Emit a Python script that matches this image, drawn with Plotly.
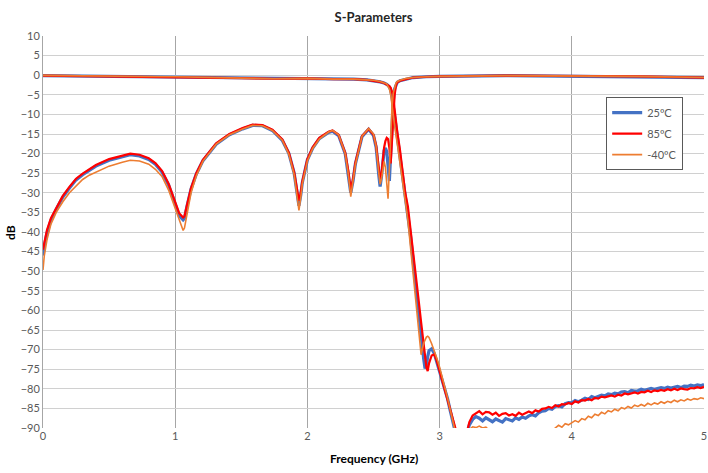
import plotly.graph_objects as go

# --- S11 (reflection) ---
f_s11 = [0, 0.01, 0.03, 0.06, 0.1,
         0.15, 0.2, 0.25, 0.3, 0.35,
         0.4, 0.5, 0.6, 0.66, 0.73,
         0.8, 0.85, 0.9, 0.95, 1.0,
         1.03, 1.06, 1.07, 1.09, 1.12,
         1.16, 1.21, 1.31, 1.41, 1.51,
         1.585, 1.66, 1.735, 1.81, 1.86,
         1.9, 1.923, 1.936, 1.95, 1.961,
         2.0, 2.04, 2.09, 2.16, 2.19,
         2.236, 2.286, 2.31, 2.328, 2.345,
         2.363, 2.413, 2.463, 2.5, 2.52,
         2.54, 2.55, 2.56, 2.57, 2.58,
         2.59, 2.6, 2.61, 2.62, 2.63,
         2.64, 2.65, 2.66, 2.67, 2.68,
         2.7, 2.75, 2.8, 2.9, 3.0,
         3.5, 4.0, 4.5, 5.0]

s11_25 = [-46.0, -43.5, -40.3, -37.0, -34.2,
          -31.1, -28.8, -26.7, -25.4, -24.2,
          -23.2, -21.7, -20.7, -20.3, -20.6,
          -21.5, -22.7, -24.7, -28.0, -32.8,
          -35.8, -36.9, -36.5, -33.3, -29.0,
          -25.2, -21.8, -17.6, -15.2, -13.7,
          -12.8, -12.9, -14.1, -16.6, -20.0,
          -25.0, -30.0, -33.3, -30.5, -27.5,
          -21.6, -18.6, -16.2, -14.6, -14.3,
          -15.4, -20.0, -25.0, -30.0, -27.0,
          -22.6, -15.7, -13.8, -15.4, -18.4,
          -25.5, -28.4, -26.0, -22.0, -19.2,
          -18.6, -19.5, -23.0, -27.0, -20.0,
          -12.0, -6.5, -3.5, -2.3, -1.8,
          -1.4, -0.9, -0.6, -0.4, -0.3,
          -0.1, -0.2, -0.3, -0.6]

s11_85 = [-44.5, -42.5, -39.5, -36.5, -33.8,
          -30.8, -28.5, -26.4, -25.1, -23.9,
          -22.9, -21.4, -20.4, -20.0, -20.3,
          -21.2, -22.4, -24.4, -27.7, -32.4,
          -35.2, -36.3, -36.0, -33.0, -28.8,
          -25.0, -21.6, -17.4, -15.0, -13.5,
          -12.6, -12.7, -13.9, -16.4, -19.8,
          -24.8, -29.5, -32.0, -30.0, -27.2,
          -21.4, -18.4, -16.0, -14.4, -14.1,
          -15.2, -19.8, -24.5, -29.3, -26.5,
          -22.3, -15.5, -13.7, -15.2, -18.0,
          -23.5, -26.5, -25.5, -21.5, -18.5,
          -16.8, -16.0, -16.3, -18.5, -22.5,
          -17.0, -10.0, -5.0, -2.5, -1.8,
          -1.4, -0.9, -0.6, -0.4, -0.3,
          -0.1, -0.2, -0.3, -0.6]

s11_m40 = [-49.7, -46.0, -42.0, -38.0, -35.0,
           -32.3, -30.0, -28.2, -26.6, -25.5,
           -24.7, -23.2, -22.2, -21.7, -21.9,
           -22.7, -24.0, -25.8, -29.3, -34.0,
           -37.3, -39.6, -39.0, -35.5, -30.0,
           -25.6, -21.9, -17.6, -15.2, -13.7,
           -12.8, -12.9, -14.1, -16.6, -20.2,
           -25.4, -30.5, -34.5, -31.2, -27.8,
           -21.8, -18.7, -16.3, -14.5, -14.1,
           -15.2, -20.0, -25.3, -31.0, -27.5,
           -22.8, -15.6, -13.6, -15.0, -18.2,
           -25.0, -27.8, -26.5, -23.5, -22.0,
           -23.5, -27.0, -31.5, -24.0, -14.0,
           -8.0, -4.5, -2.8, -2.0, -1.6,
           -1.3, -0.8, -0.6, -0.4, -0.3,
           -0.1, -0.2, -0.3, -0.6]

# --- S21 (transmission), passband + roll-off ---
f_s21 = [0, 0.25, 0.5, 0.75, 1.0,
         1.25, 1.5, 1.75, 2.0, 2.2,
         2.35, 2.45, 2.5, 2.55, 2.58,
         2.6, 2.62, 2.63, 2.64, 2.65,
         2.66, 2.68, 2.7, 2.72, 2.74,
         2.76, 2.78, 2.8, 2.82, 2.84,
         2.86, 2.88, 2.89, 2.9, 2.91,
         2.92, 2.94, 2.96, 2.98, 3.0,
         3.02, 3.04, 3.06, 3.08, 3.1,
         3.12, 3.14, 3.16, 3.18]

s21_25 = [-0.1, -0.2, -0.3, -0.35, -0.4,
          -0.5, -0.75, -0.9, -0.8, -1.0,
          -1.0, -1.2, -1.4, -1.7, -2.0,
          -2.3, -3.0, -3.8, -5.5, -8.0,
          -11.0, -16.0, -20.5, -26.0, -31.0,
          -35.5, -41.0, -47.5, -54.0, -60.0,
          -66.5, -72.5, -74.8, -74.0, -71.8,
          -70.3, -69.8, -71.0, -73.3, -75.5,
          -77.8, -80.0, -82.5, -85.5, -88.5,
          -91.0, -94.0, -95.0, -95.0]

s21_85 = [-0.1, -0.2, -0.3, -0.35, -0.4,
          -0.5, -0.75, -0.9, -0.8, -1.0,
          -1.0, -1.2, -1.4, -1.7, -2.0,
          -2.3, -2.8, -3.2, -4.2, -6.0,
          -9.0, -14.5, -19.0, -25.0, -30.0,
          -33.5, -39.0, -45.0, -51.0, -57.0,
          -63.0, -69.0, -72.0, -74.5, -75.5,
          -73.5, -71.5, -71.2, -73.0, -75.5,
          -78.0, -80.0, -82.5, -85.5, -88.0,
          -90.5, -93.0, -95.0, -95.0]

s21_m40 = [-0.05, -0.2, -0.3, -0.35, -0.4,
           -0.5, -0.75, -0.9, -0.8, -1.0,
           -1.0, -1.2, -1.3, -1.6, -1.9,
           -2.2, -3.5, -5.0, -7.5, -10.5,
           -13.0, -17.5, -22.0, -27.0, -32.0,
           -37.0, -44.0, -51.0, -58.0, -65.0,
           -71.3, -68.3, -67.3, -66.8, -66.6,
           -66.9, -68.5, -70.3, -72.3, -74.5,
           -77.0, -79.5, -82.3, -85.3, -88.3,
           -91.0, -94.0, -95.0, -95.0]

# --- S21 stopband (noisy floor) ---
f_stop = [3.2, 3.225, 3.25, 3.275, 3.3, 3.325, 3.35, 3.375, 3.4, 3.425,
          3.45, 3.475, 3.5, 3.525, 3.55, 3.575, 3.6, 3.625, 3.65, 3.675,
          3.7, 3.725, 3.75, 3.775, 3.8, 3.825, 3.85, 3.875, 3.9, 3.925,
          3.95, 3.975, 4.0, 4.025, 4.05, 4.075, 4.1, 4.125, 4.15, 4.175,
          4.2, 4.225, 4.25, 4.275, 4.3, 4.325, 4.35, 4.375, 4.4, 4.425,
          4.45, 4.475, 4.5, 4.525, 4.55, 4.575, 4.6, 4.625, 4.65, 4.675,
          4.7, 4.725, 4.75, 4.775, 4.8, 4.825, 4.85, 4.875, 4.9, 4.925,
          4.95, 4.975, 5.0]

stop_25 = [-92.0, -89.2, -87.8, -87.1, -87.5, -88.2, -87.4, -87.9, -88.4, -87.7,
           -88.0, -88.5, -87.6, -87.9, -88.2, -87.4, -87.8, -87.2, -87.5, -86.9,
           -86.6, -86.9, -86.1, -85.7, -85.6, -85.0, -85.2, -84.5, -84.3, -84.6,
           -83.8, -83.5, -83.6, -83.0, -83.3, -82.9, -82.4, -82.7, -82.0, -82.3,
           -82.0, -81.6, -81.8, -81.3, -81.5, -81.1, -81.3, -80.8, -80.7, -81.0,
           -80.4, -80.6, -80.5, -80.1, -80.4, -80.2, -79.9, -80.1, -80.0, -79.7,
           -79.9, -79.6, -79.8, -79.5, -79.4, -79.7, -79.3, -79.4, -79.1, -79.3,
           -79.0, -79.2, -78.9]

stop_85 = [-92.0, -88.5, -86.8, -86.2, -85.7, -86.5, -85.9, -86.0, -86.6, -86.1,
           -86.9, -86.4, -86.2, -86.8, -86.5, -86.9, -86.1, -86.6, -86.3, -85.8,
           -86.2, -85.5, -85.8, -85.1, -85.0, -84.6, -84.9, -84.2, -84.5, -83.9,
           -84.0, -83.6, -83.9, -83.2, -83.5, -82.9, -83.0, -82.6, -82.9, -82.3,
           -82.5, -82.0, -82.2, -81.9, -81.7, -82.0, -81.5, -81.7, -81.2, -81.4,
           -81.1, -80.9, -81.2, -80.8, -80.9, -80.5, -80.8, -80.4, -80.6, -80.3,
           -80.5, -80.1, -80.4, -80.0, -80.3, -79.9, -80.1, -80.2, -79.8, -79.9,
           -79.6, -79.8, -79.5]

stop_m40 = [-93.0, -90.4, -89.7, -89.9, -89.5, -90.0, -89.8, -90.6, -91.5, -92.3,
            -92.8, -93.2, -93.5, -93.6, -93.6, -93.5, -93.3, -93.1, -92.8, -92.5,
            -92.2, -91.9, -91.6, -91.3, -91.1, -90.9, -90.7, -90.0, -89.3, -89.8,
            -88.9, -89.2, -88.6, -88.1, -88.5, -87.6, -87.9, -87.0, -87.4, -86.5,
            -86.8, -86.0, -86.4, -85.6, -85.9, -85.2, -85.6, -84.8, -85.1, -84.5,
            -84.9, -84.2, -84.5, -84.0, -84.4, -83.7, -84.1, -83.6, -83.9, -83.3,
            -83.7, -83.2, -83.5, -82.9, -83.3, -82.8, -83.1, -82.6, -82.9, -82.5,
            -82.7, -82.3, -82.5]

temps = ['25ºC', '85ºC', '-40ºC']
colors = ['#4472C4', '#FF0000', '#ED7D31']
widths = [3.2, 2.2, 1.6]
s11_data = [s11_25, s11_85, s11_m40]
s21_data = [s21_25 + stop_25, s21_85 + stop_85, s21_m40 + stop_m40]
f_s21_all = f_s21 + f_stop

fig = go.Figure()

for name, col, w, s11, s21 in zip(temps, colors, widths, s11_data, s21_data):
    fig.add_trace(go.Scatter(
        x=f_s11, y=s11, mode='lines', name=name,
        legendgroup=name, line=dict(color=col, width=w)
    ))
    fig.add_trace(go.Scatter(
        x=f_s21_all, y=s21, mode='lines', name=name,
        legendgroup=name, showlegend=False, line=dict(color=col, width=w)
    ))

# axis titles as annotations so the margins stay fixed
fig.add_annotation(
    text='<b>dB</b>', xref='paper', yref='paper',
    x=-0.05, y=0.5, xanchor='center', yanchor='middle',
    showarrow=False, textangle=-90,
    font=dict(size=12, color='#000000')
)
fig.add_annotation(
    text='<b>Frequency (GHz)</b>', xref='paper', yref='paper',
    x=0.5, y=-0.077, xanchor='center', yanchor='middle', showarrow=False,
    font=dict(size=12, color='#000000')
)

fig.update_layout(
    width=708,
    height=473,
    margin=dict(l=43, r=4, t=36, b=45),
    paper_bgcolor='white',
    plot_bgcolor='white',
    font=dict(family='Lato, Liberation Sans, sans-serif', size=11, color='#595959'),
    title=dict(
        text='<b>S-Parameters</b>',
        x=0.5, xref='paper', xanchor='center',
        y=1 - 17 / 473, yanchor='middle',
        font=dict(size=13, color='#262626')
    ),
    legend=dict(
        x=0.852, y=0.844, xanchor='left', yanchor='top',
        bgcolor='white', bordercolor='#595959', borderwidth=1,
        font=dict(size=11, color='#595959'),
        tracegroupgap=2, itemwidth=30
    ),
    xaxis=dict(
        range=[0, 5], dtick=1, tick0=0, automargin=False,
        showgrid=True, gridcolor='#A6A6A6', gridwidth=1,
        zeroline=False, showline=False,
        ticks='', tickfont=dict(size=11, color='#595959')
    ),
    yaxis=dict(
        range=[-90, 10], dtick=5, tick0=0, automargin=False,
        showgrid=True, gridcolor='#D0D0D0', gridwidth=1,
        zeroline=False, showline=True, linecolor='#A6A6A6', linewidth=1,
        ticks='', tickfont=dict(size=11, color='#595959')
    ),
)

# the page body has a default 8px margin; drop it so the figure fills the window
fig.write_html("out.html", config={'displayModeBar': False},
               post_script="document.body.style.margin='0';")
